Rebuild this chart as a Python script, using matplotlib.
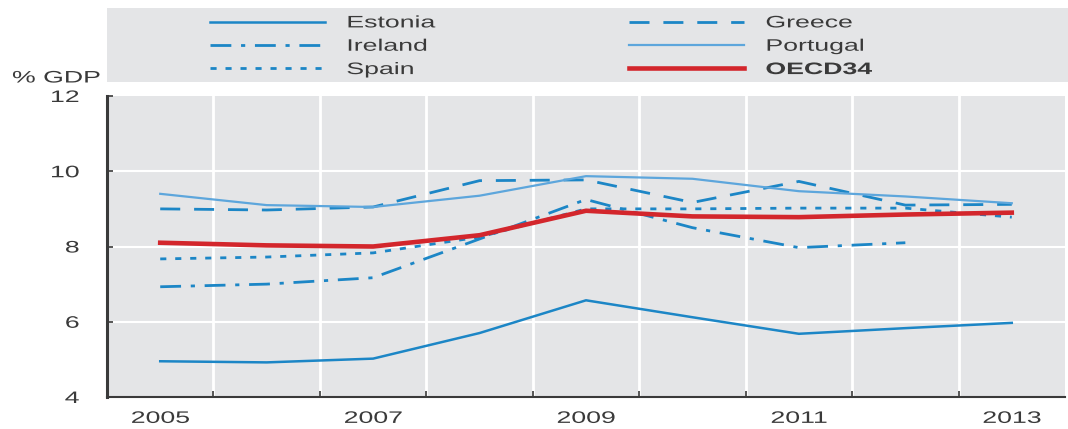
import numpy as np
import matplotlib.pyplot as plt
from matplotlib.patheffects import AbstractPathEffect
from matplotlib.transforms import Affine2D

plt.rcParams['font.family'] = ['Liberation Sans', 'DejaVu Sans']

years = [2005, 2006, 2007, 2008, 2009, 2010, 2011, 2012, 2013]
estonia = [4.95, 4.92, 5.02, 5.70, 6.57, 6.12, 5.68, 5.83, 5.97]
greece = [9.00, 8.97, 9.05, 9.75, 9.77, 9.17, 9.73, 9.10, 9.12]
ireland = [6.93, 7.00, 7.17, 8.20, 9.25, 8.50, 7.97, 8.10, np.nan]
portugal = [9.40, 9.10, 9.05, 9.35, 9.87, 9.80, 9.47, 9.33, 9.15]
spain = [7.67, 7.72, 7.83, 8.25, 9.00, 9.00, 9.02, 9.02, 8.78]
oecd34 = [8.10, 8.03, 8.00, 8.30, 8.95, 8.80, 8.78, 8.85, 8.90]

year_labels = ['2005', '', '2007', '', '2009', '', '2011', '', '2013']
y_ticks = [4, 6, 8, 10, 12]

blue = '#1c86c6'
light_blue = '#5da6dc'
red = '#d3262c'
panel = '#e4e5e7'
dark = '#3a3a3a'
STRETCH = 1.6


class HStretch(AbstractPathEffect):
    """Draw text stretched horizontally (the source artwork uses wide type)."""

    def __init__(self, sx=STRETCH, anchor='left'):
        super().__init__()
        self.sx = sx
        self.anchor = anchor

    def draw_path(self, renderer, gc, tpath, affine, rgbFace=None):
        v = tpath.vertices
        cx = 0.0
        if len(v) and self.anchor == 'center':
            cx = (v[:, 0].min() + v[:, 0].max()) / 2
        elif len(v) and self.anchor == 'right':
            cx = v[:, 0].max()
        t = Affine2D().translate(-cx, 0).scale(self.sx, 1).translate(cx, 0) + affine
        renderer.draw_path(gc, tpath, t, rgbFace)


W, H = 1068, 429
fig = plt.figure(figsize=(W / 100, H / 100), dpi=100)

# plot area (pixel positions converted to figure fractions)
ax = fig.add_axes([107 / W, 1 - 397 / H, (1065 - 107) / W, (397 - 96) / H])
ax.set_facecolor(panel)

x = np.arange(len(years))
ax.plot(x, estonia, color=blue, lw=1.8, label='Estonia')
ax.plot(x, greece, color=blue, lw=2.0, dashes=(7.2, 5.0), label='Greece')
ax.plot(x, ireland, color=blue, lw=2.0, dashes=(7.5, 3.5, 1.5, 3.5), label='Ireland')
ax.plot(x, portugal, color=light_blue, lw=1.6, label='Portugal')
ax.plot(x, spain, color=blue, lw=2.0, dashes=(2.2, 3.2), label='Spain')
ax.plot(x, oecd34, color=red, lw=3.3, label='OECD34')

ax.set_xlim(-0.5, len(years) - 0.5)
ax.set_ylim(4, 12)

# white band separators and horizontal grid
for b in np.arange(0.5, len(years) - 0.5, 1.0):
    ax.axvline(b, color='white', lw=2, zorder=0.5)
for v in y_ticks[1:-1]:
    ax.axhline(v, color='white', lw=1.5, zorder=0.5)

ax.set_xticks(x)
ax.set_xticklabels(year_labels, fontsize=12, color=dark)
ax.tick_params(axis='x', length=0, pad=10)
ax.set_xticks(np.arange(0.5, len(years) - 0.5, 1.0), minor=True)
ax.tick_params(axis='x', which='minor', direction='in', length=4, width=1.2, color=dark)

ax.set_yticks(y_ticks)
ax.set_yticklabels([str(v) for v in y_ticks], fontsize=12, color=dark)
ax.tick_params(axis='y', direction='in', length=4, width=1.2, color=dark, pad=20)

for lbl in ax.get_xticklabels():
    lbl.set_path_effects([HStretch(anchor='center')])
for lbl in ax.get_yticklabels():
    lbl.set_path_effects([HStretch(anchor='right')])

for s in ['top', 'right']:
    ax.spines[s].set_visible(False)
ax.spines['left'].set_color(dark)
ax.spines['left'].set_linewidth(2.2)
ax.spines['bottom'].set_color(dark)
ax.spines['bottom'].set_linewidth(1.5)

fig.text(12 / W, 1 - 78 / H, '% GDP', fontsize=12, color=dark, va='center', ha='left',
         path_effects=[HStretch()])

# legend panel
lax = fig.add_axes([107 / W, 1 - 82 / H, (W - 107) / W, (82 - 8) / H])
lax.set_facecolor(panel)
lax.set_xticks([])
lax.set_yticks([])
for s in lax.spines.values():
    s.set_visible(False)

handles, labels = ax.get_legend_handles_labels()
order = ['Estonia', 'Ireland', 'Spain', 'Greece', 'Portugal', 'OECD34']
hmap = dict(zip(labels, handles))
leg = lax.legend([hmap[k] for k in order], order, ncol=2, frameon=False,
                 loc='upper left', bbox_to_anchor=(96 / (W - 107), 0.99),
                 fontsize=12, handlelength=6.9, handletextpad=1.3,
                 columnspacing=13.6, labelspacing=0.5, borderaxespad=0)
for t in leg.get_texts():
    t.set_color(dark)
    t.set_path_effects([HStretch()])
    if t.get_text() == 'OECD34':
        t.set_fontweight('bold')

fig.savefig('out.png', dpi=100)
